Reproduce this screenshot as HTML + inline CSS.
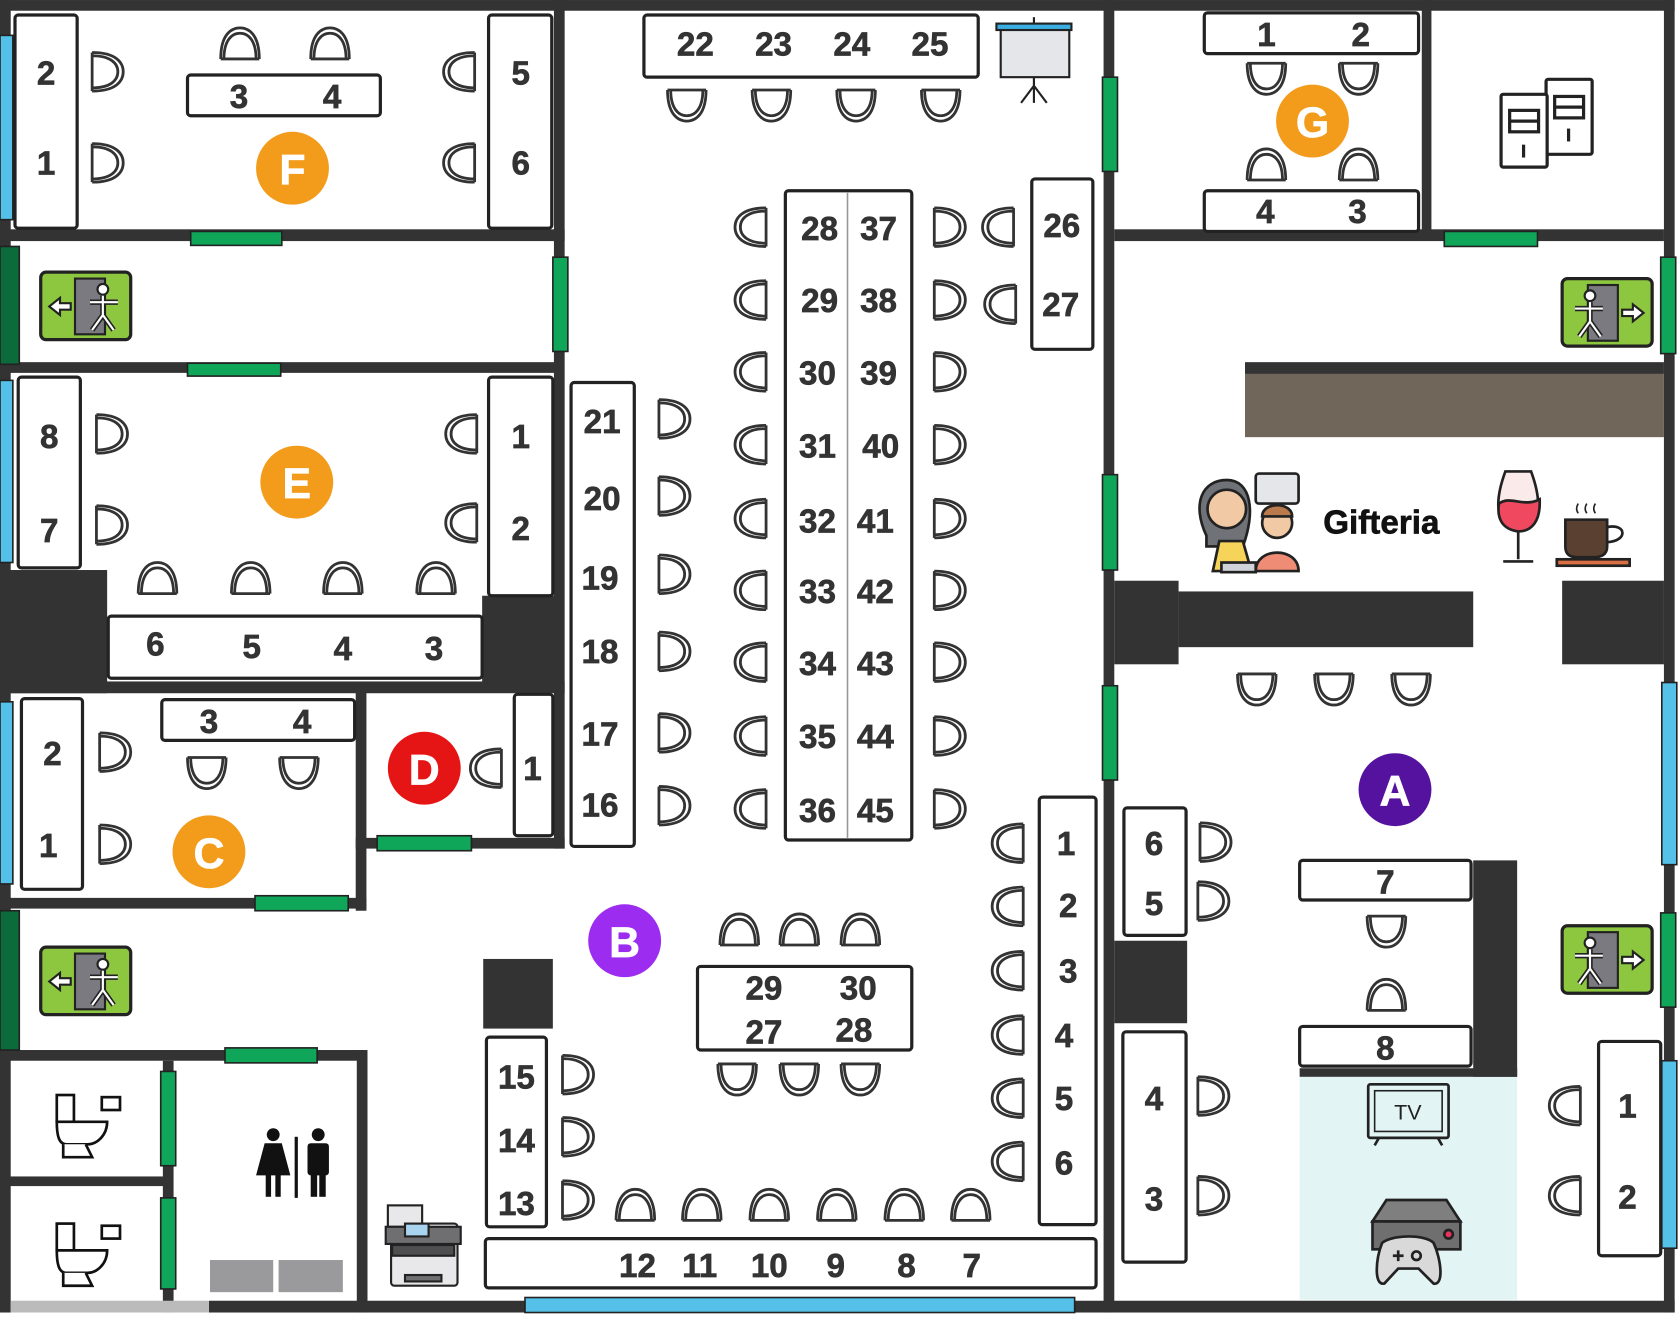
<!DOCTYPE html>
<html><head><meta charset="utf-8"><style>
html,body{margin:0;padding:0;background:#fff;}
svg{display:block;}
text{font-family:"Liberation Sans",sans-serif;font-weight:bold;fill:#333;stroke:#333;stroke-width:0.6;}
</style></head><body>
<svg width="1680" height="1342" viewBox="0 0 1568 1252.5" xmlns="http://www.w3.org/2000/svg">
<defs>
<g id="c"><path d="M-13,-18 L-13,18 M-13,-18 C10,-18 16,-8 16,0 C16,8 10,18 -13,18 M-13,-15 C4,-15 11,-8 11,0 C11,8 4,15 -13,15" fill="none" stroke="#333" stroke-width="2.6"/></g>
<g id="R"><use href="#c"/></g>
<g id="L"><use href="#c" transform="scale(-1,1)"/></g>
<g id="U"><use href="#c" transform="rotate(-90)"/></g>
<g id="D"><use href="#c" transform="rotate(90)"/></g>
<g id="exitL"><rect x="0" y="0" width="84" height="63" rx="5" fill="#8dc63f" stroke="#222" stroke-width="3"/><rect x="32" y="6" width="28" height="52" fill="#7a7a80" stroke="#222" stroke-width="2"/><path d="M8,32 L18,24 L18,29 L28,29 L28,35 L18,35 L18,40 Z" fill="#fff" stroke="#222" stroke-width="2"/><circle cx="58" cy="16" r="5" fill="#fff" stroke="#222" stroke-width="2"/><path d="M46,28 L72,28 M58,22 L58,40 L48,54 M58,40 L68,54" stroke="#222" stroke-width="5" fill="none"/><path d="M46,28 L72,28 M58,22 L58,40 L48,54 M58,40 L68,54" stroke="#fff" stroke-width="2" fill="none"/></g>
</defs>

<rect x="1213" y="1005" width="203" height="208" fill="#e3f4f4"/>

<g fill="#333">
<rect x="0" y="0" width="1563" height="10"/>
<rect x="0" y="0" width="10" height="1225"/>
<rect x="1553" y="0" width="10" height="1225"/>
<rect x="195" y="1214" width="1368" height="11"/>
<rect x="517" y="0" width="10" height="792"/>
<rect x="1030" y="0" width="10" height="1225"/>
<rect x="1327" y="0" width="9" height="222"/>
<rect x="0" y="214" width="527" height="11"/>
<rect x="0" y="338" width="520" height="10"/>
<rect x="0" y="532" width="100" height="115"/>
<rect x="450" y="556" width="70" height="90"/>
<rect x="0" y="636" width="527" height="11"/>
<rect x="332" y="645" width="10" height="205"/>
<rect x="0" y="838" width="342" height="10"/>
<rect x="332" y="782" width="195" height="10"/>
<rect x="0" y="980" width="343" height="10"/>
<rect x="333" y="980" width="10" height="245"/>
<rect x="152" y="990" width="10" height="235"/>
<rect x="0" y="1098" width="160" height="9"/>
<rect x="1040" y="214" width="513" height="11"/>
<rect x="1162" y="338" width="391" height="11"/>
<rect x="1040" y="542" width="60" height="78"/>
<rect x="1100" y="552" width="275" height="52"/>
<rect x="1458" y="542" width="95" height="78"/>
<rect x="1040" y="878" width="68" height="77"/>
<rect x="1375" y="803" width="41" height="202"/>
<rect x="1213" y="997" width="203" height="8"/>
<rect x="451" y="895" width="65" height="65"/>
</g>
<rect x="10" y="1214" width="185" height="11" fill="#bbb"/>
<rect x="1162" y="349" width="391" height="59" fill="#706659"/>

<g stroke="#222" stroke-width="1.5">
<rect x="0" y="33" width="12" height="172" fill="#56c1e8"/>
<rect x="0" y="355" width="12" height="170" fill="#56c1e8"/>
<rect x="0" y="655" width="12" height="170" fill="#56c1e8"/>
<rect x="490" y="1211" width="513" height="14" fill="#56c1e8"/>
<rect x="1551" y="637" width="14" height="170" fill="#56c1e8"/>
<rect x="1551" y="990" width="14" height="175" fill="#56c1e8"/>
<rect x="0" y="230" width="18" height="110" fill="#0b6b3a"/>
<rect x="0" y="850" width="18" height="130" fill="#0b6b3a"/>
<rect x="178" y="216" width="85" height="13" fill="#10a65a"/>
<rect x="175" y="339" width="87" height="12" fill="#10a65a"/>
<rect x="238" y="836" width="87" height="14" fill="#10a65a"/>
<rect x="352" y="780" width="88" height="14" fill="#10a65a"/>
<rect x="210" y="978" width="86" height="14" fill="#10a65a"/>
<rect x="150" y="1000" width="14" height="88" fill="#10a65a"/>
<rect x="150" y="1118" width="14" height="85" fill="#10a65a"/>
<rect x="516" y="240" width="14" height="88" fill="#10a65a"/>
<rect x="1029" y="72" width="14" height="88" fill="#10a65a"/>
<rect x="1029" y="443" width="14" height="89" fill="#10a65a"/>
<rect x="1029" y="640" width="14" height="88" fill="#10a65a"/>
<rect x="1348" y="216" width="87" height="14" fill="#10a65a"/>
<rect x="1550" y="240" width="14" height="90" fill="#10a65a"/>
<rect x="1550" y="852" width="14" height="88" fill="#10a65a"/>
</g>

<g fill="#fff" stroke="#222" stroke-width="3">
<rect x="14" y="14" width="58" height="199" rx="3"/>
<rect x="175" y="70" width="180" height="38" rx="3"/>
<rect x="456" y="14" width="59" height="199" rx="3"/>
<rect x="601" y="14" width="312" height="58" rx="3"/>
<rect x="1124" y="12" width="200" height="38" rx="3"/>
<rect x="1124" y="178" width="200" height="38" rx="3"/>
<rect x="17" y="352" width="58" height="178" rx="3"/>
<rect x="456" y="352" width="60" height="204" rx="3"/>
<rect x="101" y="575" width="349" height="58" rx="3"/>
<rect x="20" y="652" width="57" height="178" rx="3"/>
<rect x="151" y="653" width="180" height="38" rx="3"/>
<rect x="480" y="648" width="36" height="132" rx="3"/>
<rect x="533" y="357" width="59" height="433" rx="3"/>
<rect x="733" y="178" width="118" height="606" rx="3"/>
<rect x="963" y="167" width="57" height="159" rx="3"/>
<rect x="970" y="744" width="53" height="399" rx="3"/>
<rect x="651" y="902" width="200" height="78" rx="3"/>
<rect x="454" y="968" width="56" height="177" rx="3"/>
<rect x="453" y="1156" width="570" height="46" rx="3"/>
<rect x="1049" y="754" width="58" height="119" rx="3"/>
<rect x="1048" y="963" width="59" height="215" rx="3"/>
<rect x="1213" y="803" width="160" height="37" rx="3"/>
<rect x="1213" y="958" width="160" height="37" rx="3"/>
<rect x="1492" y="972" width="58" height="200" rx="3"/>
</g>
<line x1="791" y1="180" x2="791" y2="782" stroke="#999" stroke-width="1.5"/>

<g>
<use href="#R" x="99" y="67"/><use href="#R" x="99" y="152"/>
<use href="#U" x="224" y="42"/><use href="#U" x="308" y="42"/>
<use href="#L" x="430" y="67"/><use href="#L" x="430" y="152"/>
<use href="#D" x="641" y="97"/><use href="#D" x="720" y="97"/><use href="#D" x="799" y="97"/><use href="#D" x="878" y="97"/>
<use href="#D" x="1182" y="72"/><use href="#D" x="1268" y="72"/>
<use href="#U" x="1182" y="155"/><use href="#U" x="1268" y="155"/>
<use href="#R" x="103" y="405"/><use href="#R" x="103" y="490"/>
<use href="#L" x="432" y="405"/><use href="#L" x="432" y="488"/>
<use href="#U" x="147" y="541"/><use href="#U" x="234" y="541"/><use href="#U" x="320" y="541"/><use href="#U" x="407" y="541"/>
<use href="#R" x="106" y="702"/><use href="#R" x="106" y="788"/>
<use href="#D" x="193" y="720"/><use href="#D" x="279" y="720"/>
<use href="#L" x="455" y="717"/>
<use href="#R" x="628" y="391"/><use href="#R" x="628" y="463"/><use href="#R" x="628" y="536"/><use href="#R" x="628" y="608"/><use href="#R" x="628" y="684"/><use href="#R" x="628" y="752"/>
<use href="#L" x="702" y="212"/><use href="#L" x="702" y="280"/><use href="#L" x="702" y="347"/><use href="#L" x="702" y="415"/><use href="#L" x="702" y="484"/><use href="#L" x="702" y="551"/><use href="#L" x="702" y="618"/><use href="#L" x="702" y="687"/><use href="#L" x="702" y="755"/>
<use href="#R" x="885" y="212"/><use href="#R" x="885" y="280"/><use href="#R" x="885" y="347"/><use href="#R" x="885" y="415"/><use href="#R" x="885" y="484"/><use href="#R" x="885" y="551"/><use href="#R" x="885" y="618"/><use href="#R" x="885" y="687"/><use href="#R" x="885" y="755"/>
<use href="#L" x="933" y="212"/><use href="#L" x="935" y="284"/>
<use href="#L" x="942" y="787"/><use href="#L" x="942" y="846"/><use href="#L" x="942" y="906"/><use href="#L" x="942" y="966"/><use href="#L" x="942" y="1025"/><use href="#L" x="942" y="1084"/>
<use href="#U" x="690" y="869"/><use href="#U" x="746" y="869"/><use href="#U" x="803" y="869"/>
<use href="#D" x="688" y="1006"/><use href="#D" x="746" y="1006"/><use href="#D" x="803" y="1006"/>
<use href="#R" x="538" y="1003"/><use href="#R" x="538" y="1061"/><use href="#R" x="538" y="1120"/>
<use href="#U" x="593" y="1126"/><use href="#U" x="655" y="1126"/><use href="#U" x="718" y="1126"/><use href="#U" x="781" y="1126"/><use href="#U" x="844" y="1126"/><use href="#U" x="906" y="1126"/>
<use href="#D" x="1173" y="642"/><use href="#D" x="1245" y="642"/><use href="#D" x="1317" y="642"/>
<use href="#R" x="1133" y="786"/><use href="#R" x="1131" y="841"/>
<use href="#R" x="1131" y="1023"/><use href="#R" x="1131" y="1116"/>
<use href="#D" x="1294" y="868"/><use href="#U" x="1294" y="930"/>
<use href="#L" x="1462" y="1032"/><use href="#L" x="1462" y="1116"/>
</g>

<g font-size="31" text-anchor="middle">
<text x="43" y="79">2</text><text x="43" y="163">1</text>
<text x="223" y="101">3</text><text x="310" y="101">4</text>
<text x="486" y="79">5</text><text x="486" y="163">6</text>
<text x="649" y="52">22</text><text x="722" y="52">23</text><text x="795" y="52">24</text><text x="868" y="52">25</text>
<text x="1182" y="43">1</text><text x="1270" y="43">2</text>
<text x="1181" y="208">4</text><text x="1267" y="208">3</text>
<text x="46" y="418">8</text><text x="46" y="506">7</text>
<text x="486" y="418">1</text><text x="486" y="504">2</text>
<text x="145" y="612">6</text><text x="235" y="614">5</text><text x="320" y="616">4</text><text x="405" y="616">3</text>
<text x="49" y="714">2</text><text x="45" y="800">1</text>
<text x="195" y="684">3</text><text x="282" y="684">4</text>
<text x="497" y="728">1</text>
<text x="562" y="404">21</text><text x="562" y="476">20</text><text x="560" y="550">19</text><text x="560" y="619">18</text><text x="560" y="696">17</text><text x="560" y="762">16</text>
<text x="765" y="224">28</text><text x="820" y="224">37</text>
<text x="765" y="291">29</text><text x="820" y="291">38</text>
<text x="763" y="359">30</text><text x="820" y="359">39</text>
<text x="763" y="427">31</text><text x="822" y="427">40</text>
<text x="763" y="497">32</text><text x="817" y="497">41</text>
<text x="763" y="563">33</text><text x="817" y="563">42</text>
<text x="763" y="630">34</text><text x="817" y="630">43</text>
<text x="763" y="698">35</text><text x="817" y="698">44</text>
<text x="763" y="767">36</text><text x="817" y="767">45</text>
<text x="991" y="221">26</text><text x="990" y="295">27</text>
<text x="995" y="798">1</text><text x="997" y="856">2</text><text x="997" y="917">3</text><text x="993" y="977">4</text><text x="993" y="1036">5</text><text x="993" y="1096">6</text>
<text x="713" y="933">29</text><text x="801" y="933">30</text>
<text x="713" y="974">27</text><text x="797" y="972">28</text>
<text x="482" y="1016">15</text><text x="482" y="1075">14</text><text x="482" y="1134">13</text>
<text x="595" y="1192">12</text><text x="653" y="1192">11</text><text x="718" y="1192">10</text><text x="780" y="1192">9</text><text x="846" y="1192">8</text><text x="907" y="1192">7</text>
<text x="1077" y="798">6</text><text x="1077" y="854">5</text>
<text x="1077" y="1036">4</text><text x="1077" y="1130">3</text>
<text x="1293" y="834">7</text><text x="1293" y="989">8</text>
<text x="1519" y="1043">1</text><text x="1519" y="1128">2</text>
</g>

<g font-size="40" text-anchor="middle">
<circle cx="273" cy="157" r="34" fill="#f39c1b"/><text x="273" y="172" style="fill:#fff;stroke:#fff">F</text>
<circle cx="277" cy="450" r="34" fill="#f39c1b"/><text x="277" y="465" style="fill:#fff;stroke:#fff">E</text>
<circle cx="195" cy="795" r="34" fill="#f39c1b"/><text x="195" y="810" style="fill:#fff;stroke:#fff">C</text>
<circle cx="396" cy="717" r="34" fill="#e51515"/><text x="396" y="732" style="fill:#fff;stroke:#fff">D</text>
<circle cx="583" cy="878" r="34" fill="#9b2cf0"/><text x="583" y="893" style="fill:#fff;stroke:#fff">B</text>
<circle cx="1302" cy="737" r="34" fill="#55129e"/><text x="1302" y="752" style="fill:#fff;stroke:#fff">A</text>
<circle cx="1225" cy="113" r="34" fill="#f39c1b"/><text x="1225" y="128" style="fill:#fff;stroke:#fff">G</text>
</g>

<use href="#exitL" x="38" y="254"/>
<use href="#exitL" x="38" y="884"/>
<use href="#exitL" transform="translate(1542,260) scale(-1,1)"/>
<use href="#exitL" transform="translate(1542,864) scale(-1,1)"/>

<g stroke="#222" stroke-width="2">
<rect x="934" y="24" width="64" height="48" fill="#e4e6ea"/>
<rect x="930" y="22" width="70" height="6" fill="#3aaee0"/>
<path d="M965,72 L965,80 M965,80 L953,96 M965,80 L977,96 M965,80 L965,96" fill="none"/>
<line x1="965" y1="16" x2="965" y2="22"/>
</g>
<g stroke="#222" stroke-width="3" fill="#fff">
<rect x="1443" y="74" width="43" height="70" rx="2"/>
<rect x="1401" y="88" width="43" height="68" rx="2"/>
<rect x="1409" y="103" width="27" height="20"/><line x1="1409" y1="113" x2="1436" y2="113"/>
<rect x="1451" y="90" width="27" height="20"/><line x1="1451" y1="100" x2="1478" y2="100"/>
<line x1="1422" y1="135" x2="1422" y2="147"/><line x1="1464" y1="120" x2="1464" y2="132"/>
</g>

<text x="1235" y="498" font-size="31" style="fill:#111;stroke:#111">Gifteria</text>
<g stroke="#222" stroke-width="2.5">
<path d="M1126,500 C1112,470 1122,448 1145,448 C1168,448 1172,478 1160,510 L1126,510 Z" fill="#6f7378"/>
<circle cx="1145" cy="475" r="18" fill="#f1c9a5"/>
<path d="M1132,533 L1138,505 L1160,505 L1168,533 Z" fill="#f6d45a"/>
<rect x="1172" y="442" width="40" height="28" rx="3" fill="#e4e6ea"/>
<circle cx="1192" cy="488" r="14" fill="#f1c9a5"/>
<path d="M1178,482 C1178,468 1206,468 1206,482 Z" fill="#b97a4c"/>
<path d="M1172,533 C1172,510 1212,510 1212,533 Z" fill="#ef8c75"/>
<rect x="1140" y="525" width="32" height="9" fill="#d0d3da"/>
<path d="M1405,440 L1429,440 C1440,470 1438,492 1417,496 C1396,492 1394,470 1405,440 Z" fill="#fbeaea"/>
<path d="M1399,470 C1410,462 1422,474 1437,466 C1438,486 1430,496 1417,496 C1402,494 1397,484 1399,470 Z" fill="#f0485e"/>
<path d="M1417,496 L1417,522 M1403,524 L1431,524" fill="none"/>
<rect x="1453" y="522" width="68" height="6" fill="#d86f43"/>
<path d="M1461,485 L1500,485 L1500,510 C1500,518 1494,520 1488,520 L1472,520 C1466,520 1461,518 1461,510 Z" fill="#5a4030"/>
<path d="M1500,492 C1518,488 1520,505 1500,506" fill="none"/>
<path d="M1473,470 q-3,5 0,9 M1481,470 q-3,5 0,9 M1489,470 q-3,5 0,9" fill="none" stroke-width="1.5"/>
</g>

<g stroke="#222" stroke-width="2.5">
<rect x="1277" y="1012" width="75" height="50" rx="2" fill="#e3f4f4"/>
<rect x="1283" y="1018" width="63" height="38" fill="none" stroke-width="1.5"/>
<path d="M1287,1062 L1283,1069 M1342,1062 L1346,1069" fill="none"/>
</g>
<text x="1314" y="1045" font-size="20" text-anchor="middle" style="font-weight:normal;fill:#222;stroke:none">TV</text>
<g stroke="#222" stroke-width="2.5">
<path d="M1294,1120 L1350,1120 L1363,1140 L1281,1140 Z" fill="#7f7f7f"/>
<rect x="1281" y="1140" width="82" height="26" fill="#6f6f6f"/>
<circle cx="1352" cy="1152" r="4" fill="#e8345a"/>
<path d="M1290,1160 C1300,1152 1330,1152 1338,1160 C1345,1175 1348,1200 1338,1198 L1324,1184 L1305,1184 L1292,1198 C1282,1200 1284,1175 1290,1160 Z" fill="#d9d9d9"/>
<circle cx="1322" cy="1172" r="4" fill="none"/>
<path d="M1300,1172 L1310,1172 M1305,1167 L1305,1177" fill="none"/>
</g>

<g stroke="#222" stroke-width="2">
<rect x="365" y="1142" width="62" height="58" rx="3" fill="#e8e8ea"/>
<rect x="362" y="1125" width="32" height="20" fill="#e8e8ea"/>
<rect x="360" y="1145" width="70" height="16" fill="#6f6f72"/>
<rect x="378" y="1142" width="22" height="12" fill="#a9d4f0"/>
<rect x="366" y="1162" width="58" height="10" fill="#4f4f52"/>
<rect x="378" y="1190" width="34" height="6" fill="#6f6f72"/>
</g>

<g stroke="#111" stroke-width="2.5" fill="#fff">
<rect x="53" y="1022" width="16" height="25"/><rect x="95" y="1024" width="17" height="12"/>
<path d="M53,1047 L100,1047 C100,1060 90,1068 82,1068 L62,1068 C55,1068 53,1060 53,1047 Z"/>
<path d="M59,1068 L59,1080 L86,1080 L80,1068"/>
<rect x="53" y="1142" width="16" height="25"/><rect x="95" y="1144" width="17" height="12"/>
<path d="M53,1167 L100,1167 C100,1180 90,1188 82,1188 L62,1188 C55,1188 53,1180 53,1167 Z"/>
<path d="M59,1188 L59,1200 L86,1200 L80,1188"/>
</g>
<g fill="#111">
<circle cx="255" cy="1059" r="6"/><path d="M247,1067 L263,1067 L271,1097 L239,1097 Z"/><rect x="248" y="1095" width="5" height="22"/><rect x="257" y="1095" width="5" height="22"/>
<rect x="275" y="1061" width="3" height="57"/>
<circle cx="297" cy="1059" r="6"/><rect x="287" y="1067" width="20" height="30" rx="3"/><rect x="290" y="1095" width="6" height="22"/><rect x="298" y="1095" width="6" height="22"/>
</g>
<rect x="196" y="1176" width="59" height="30" fill="#9a9a9d"/>
<rect x="260" y="1176" width="60" height="30" fill="#9a9a9d"/>
</svg>
</body></html>
